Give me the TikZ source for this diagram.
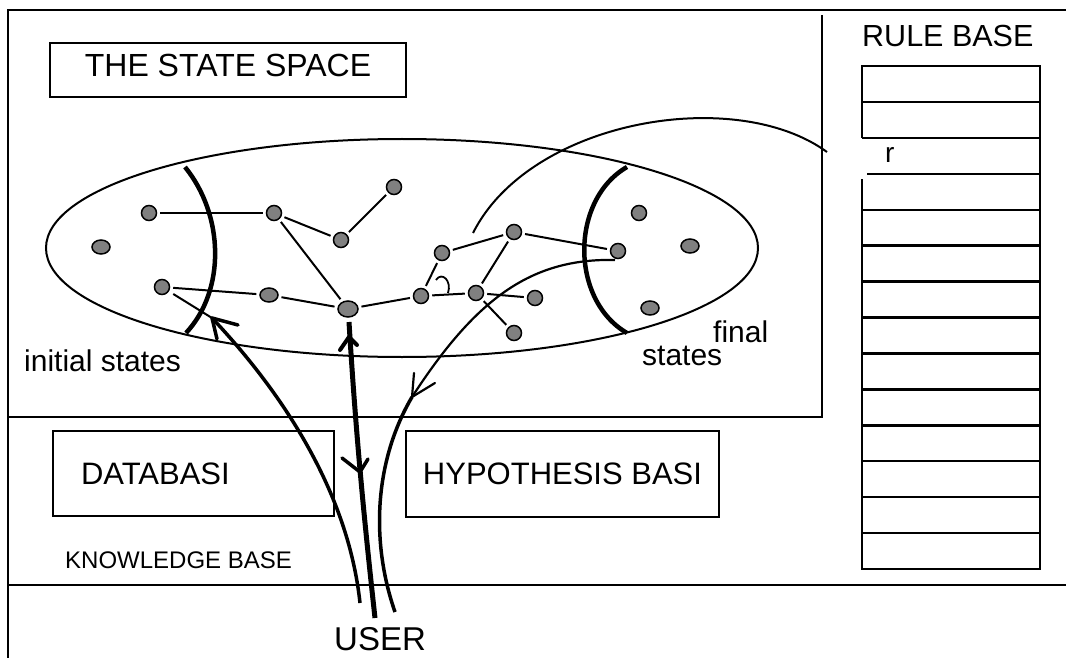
\documentclass[tikz,border=0pt]{standalone}
\usepackage{fontspec}
\setmainfont{Liberation Sans}
\usetikzlibrary{shapes.geometric}
\definecolor{dotgrey}{RGB}{128,128,128}
\newcommand\fsz[1]{\fontsize{#1pt}{#1pt}\selectfont}
\tikzset{
  frame/.style={line width=2.4pt},
  box/.style={draw, line width=2.2pt, inner sep=0pt},
  txt/.style={inner sep=0pt, anchor=base west},
  stdot/.style={ellipse, draw, line width=1.5pt, fill=dotgrey, inner sep=0pt,
                minimum width=15pt, minimum height=15pt},
  wdot/.style={stdot, minimum width=18pt, minimum height=14pt},
  link/.style={line width=2pt, shorten <=3pt, shorten >=3pt},
  bound/.style={line width=4.5pt},
  flow/.style={line width=3.5pt},
  barb/.style={line width=3.5pt, line cap=round},
  grid/.style={line width=2.4pt},
}
\begin{document}
\begin{tikzpicture}[x=1pt, y=-1pt]
\useasboundingbox (0,0) rectangle (1066,658);

% outer frame and panel separators
\draw[frame] (8,658) -- (8,10) -- (1066,10);
\draw[frame] (822,15) -- (822,417) -- (8,417);
\draw[frame] (8,585) -- (1066,585);

% title of the state space panel
\node[box, minimum width=356pt, minimum height=54pt, text depth=10pt,
      font=\fsz{32}] (title) at (228,70) {THE STATE SPACE};

% the state space itself
\node[ellipse, draw, line width=2pt, inner sep=0pt,
      minimum width=712pt, minimum height=218pt] (space) at (402,248) {};

% boundaries of the initial and final regions
\draw[bound] (185,167) .. controls (224,215) and (226,290) .. (186,333);
\draw[bound] (627,167) .. controls (570,200) and (570,300) .. (627,333);

% states
\node[stdot] (d1)  at (149,213) {};
\node[stdot] (d2)  at (274,213) {};
\node[stdot] (d3)  at (394,187) {};
\node[stdot] (d4)  at (341,240) {};
\node[wdot]  (d5)  at (101,247) {};
\node[stdot] (d6)  at (162,287) {};
\node[wdot]  (d7)  at (269,295) {};
\node[stdot, minimum width=20pt, minimum height=16pt] (d8) at (348,309) {};
\node[stdot] (d9)  at (442,253) {};
\node[stdot] (d10) at (421,296) {};
\node[stdot] (d11) at (514,232) {};
\node[stdot] (d12) at (476,293) {};
\node[stdot] (d13) at (535,298) {};
\node[stdot] (d14) at (514,333) {};
\node[stdot] (d15) at (618,251) {};
\node[stdot] (d16) at (639,213) {};
\node[wdot]  (d17) at (690,246) {};
\node[wdot]  (d18) at (650,308) {};

% transitions between states
\draw[link] (d1) -- (d2);
\draw[link] (d2) -- (d4);
\draw[link] (d4) -- (d3);
\draw[link] (d2) -- (d8);
\draw[link] (d6) -- (d7);
\draw[link] (d7) -- (d8);
\draw[link] (d8) -- (d10);
\draw[link] (d10) -- (d12);
\draw[link] (d9) -- (d10);
\draw[link] (d9) -- (d11);
\draw[link] (d11) -- (d12);
\draw[link] (d11) -- (d15);
\draw[link] (d12) -- (d13);
\draw[link] (d12) -- (d14);

% angle mark at d10
\draw[line width=1.8pt] (436,280) .. controls (442,271) and (452,281) .. (448,293);

% labels in the state space panel
\node[txt, font=\fsz{30}] (init) at (24,371) {initial states};
\node[txt, font=\fsz{30}] (fin1) at (713,342) {final};
\node[txt, font=\fsz{30}] (fin2) at (642,365) {states};

% rule base
\node[txt, font=\fsz{30.5}] (rb) at (862,47) {RULE BASE};
\draw[grid] (862,137.86) -- (862,66) -- (1040,66) -- (1040,569) -- (862,569) -- (862,179);
\foreach \k in {1,2,4,5,6,7,8,9,10,11,12,13}
  \draw[grid] (862,{66+35.93*\k}) -- (1040,{66+35.93*\k});
\draw[grid] (867,{66+35.93*3}) -- (1040,{66+35.93*3});
\node[txt, font=\fsz{28}] (r) at (885,163) {r};
\coordinate (rslot) at (827,152);

% rule application arc
\coordinate (arcstart) at (473,233);
\draw[line width=2pt] (arcstart) .. controls (530,120) and (735,85) .. (rslot);

% knowledge base panel
\node[box, minimum width=281pt, minimum height=85pt, inner xsep=28pt,
      font=\fsz{31}] (db) at (193.5,473.5) {\makebox[225pt][l]{DATABASI}};
\node[box, minimum width=313pt, minimum height=86pt,
      font=\fsz{31}] (hb) at (562.5,474) {HYPOTHESIS BASI};
\node[txt, font=\fsz{24}] (kb) at (65,568) {KNOWLEDGE BASE};

% user
\node[txt, font=\fsz{33}] (user) at (334,650) {USER};
\coordinate (u1) at (360,603);
\coordinate (u2) at (375,618);
\coordinate (u3) at (395,612);

% user sets the initial states
\coordinate (tipA) at (212,318);
\draw[line width=2pt, shorten <=5pt] (d6) -- (tipA);
\draw[flow] (tipA) .. controls (280,390) and (348,490) .. (u1);
\draw[barb] (tipA) -- (238,325);
\draw[barb] (tipA) -- (217,339);

% two-way exchange between user and the current state
\coordinate (topB) at (349,322);
\draw[line width=5pt] (topB) .. controls (355,420) and (362,500) .. (u2);
\coordinate (tipB) at (349,337);
\draw[barb, line width=4pt] (tipB) -- (340,350);
\draw[barb, line width=4pt] (tipB) -- (357,345);
\coordinate (tipC) at (360,472);
\draw[barb] (tipC) -- (342,458);
\draw[barb] (tipC) -- (368,459);

% final states reported back to the user
\coordinate (startD) at (615,260);
\coordinate (tipD) at (412,397);
\draw[line width=2.2pt] (startD) .. controls (530,258) and (475,300) .. (tipD);
\draw[flow] (tipD) .. controls (375,460) and (370,540) .. (u3);
\draw[line width=2.2pt, line cap=round] (tipD) -- (414,373);
\draw[line width=2.2pt, line cap=round] (tipD) -- (435,383);

\end{tikzpicture}
\end{document}
